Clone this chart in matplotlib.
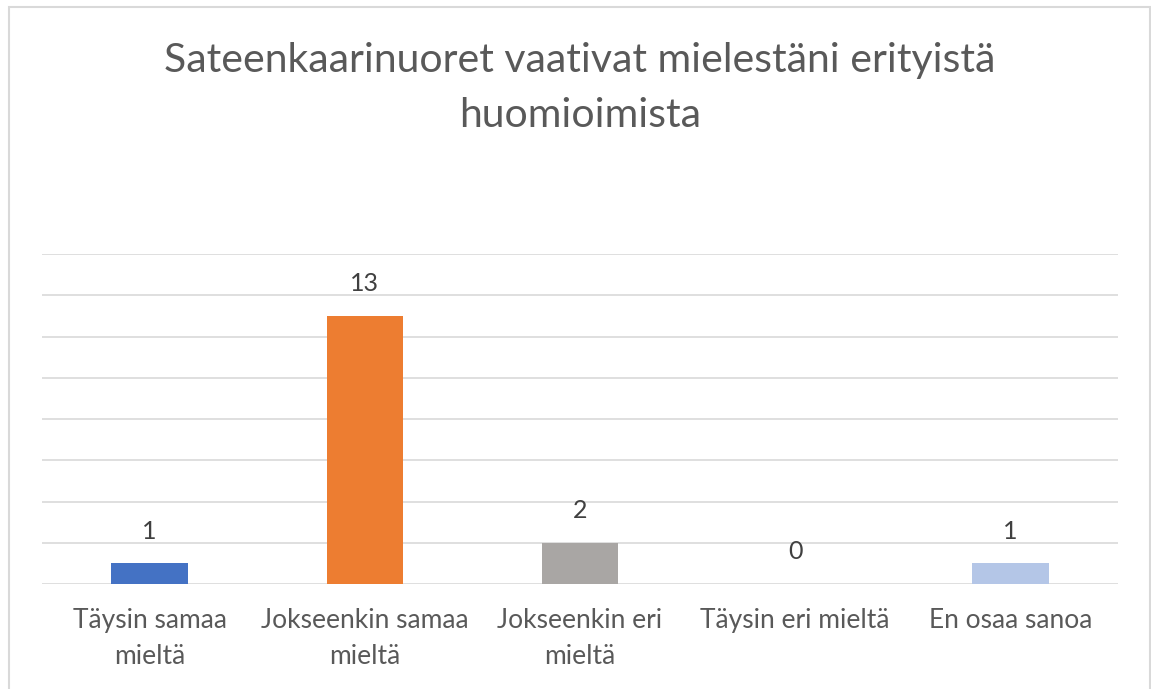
import matplotlib.pyplot as plt
from matplotlib.patches import Rectangle
import numpy as np

plt.rcParams['font.family'] = ['Lato', 'DejaVu Sans']

categories = ['Täysin samaa\nmieltä', 'Jokseenkin samaa\nmieltä', 'Jokseenkin eri\nmieltä',
              'Täysin eri mieltä', 'En osaa sanoa']
values = [1, 13, 2, 0, 1]
colors = ['#4472C4', '#ED7D31', '#A9A6A4', '#FFC000', '#B4C6E7']
title = 'Sateenkaarinuoret vaativat mielestäni erityistä\nhuomioimista'

W, H = 1151, 689
fig = plt.figure(figsize=(W / 100, H / 100), dpi=100)
ax = fig.add_axes([42 / W, 1 - 584 / H, (1118 - 42) / W, (584 - 254) / H])

x = np.arange(len(values))
bars = ax.bar(x, values, width=0.355, color=colors, zorder=3)

for xi, v in zip(x, values):
    ax.annotate(str(v), (xi, v), xytext=(0, 15), textcoords='offset points',
                ha='center', va='bottom', fontsize=18, color='#404040')

ax.set_xlim(-0.5, len(values) - 0.5)
ax.set_ylim(0, 16)
ax.set_yticks(np.arange(0, 17, 2))
ax.yaxis.grid(True, color='#D9D9D9', linewidth=1.2, zorder=0)
ax.tick_params(axis='y', left=False, labelleft=False)
ax.set_xticks(x)
ax.set_xticklabels(categories, fontsize=19, color='#595959', linespacing=1.57)
ax.tick_params(axis='x', length=0, pad=17)
for s in ax.spines.values():
    s.set_visible(False)

fig.text(580 / W, 1 - 88 / H, title, ha='center', va='center', fontsize=29.5,
         color='#595959', linespacing=1.58)

fig.add_artist(Rectangle((9 / W, -0.05), (1150 - 9) / W, 1.05 - 7 / H,
                         transform=fig.transFigure, fill=False,
                         edgecolor='#D9D9D9', linewidth=1.5))

fig.savefig('out.png', dpi=100)
